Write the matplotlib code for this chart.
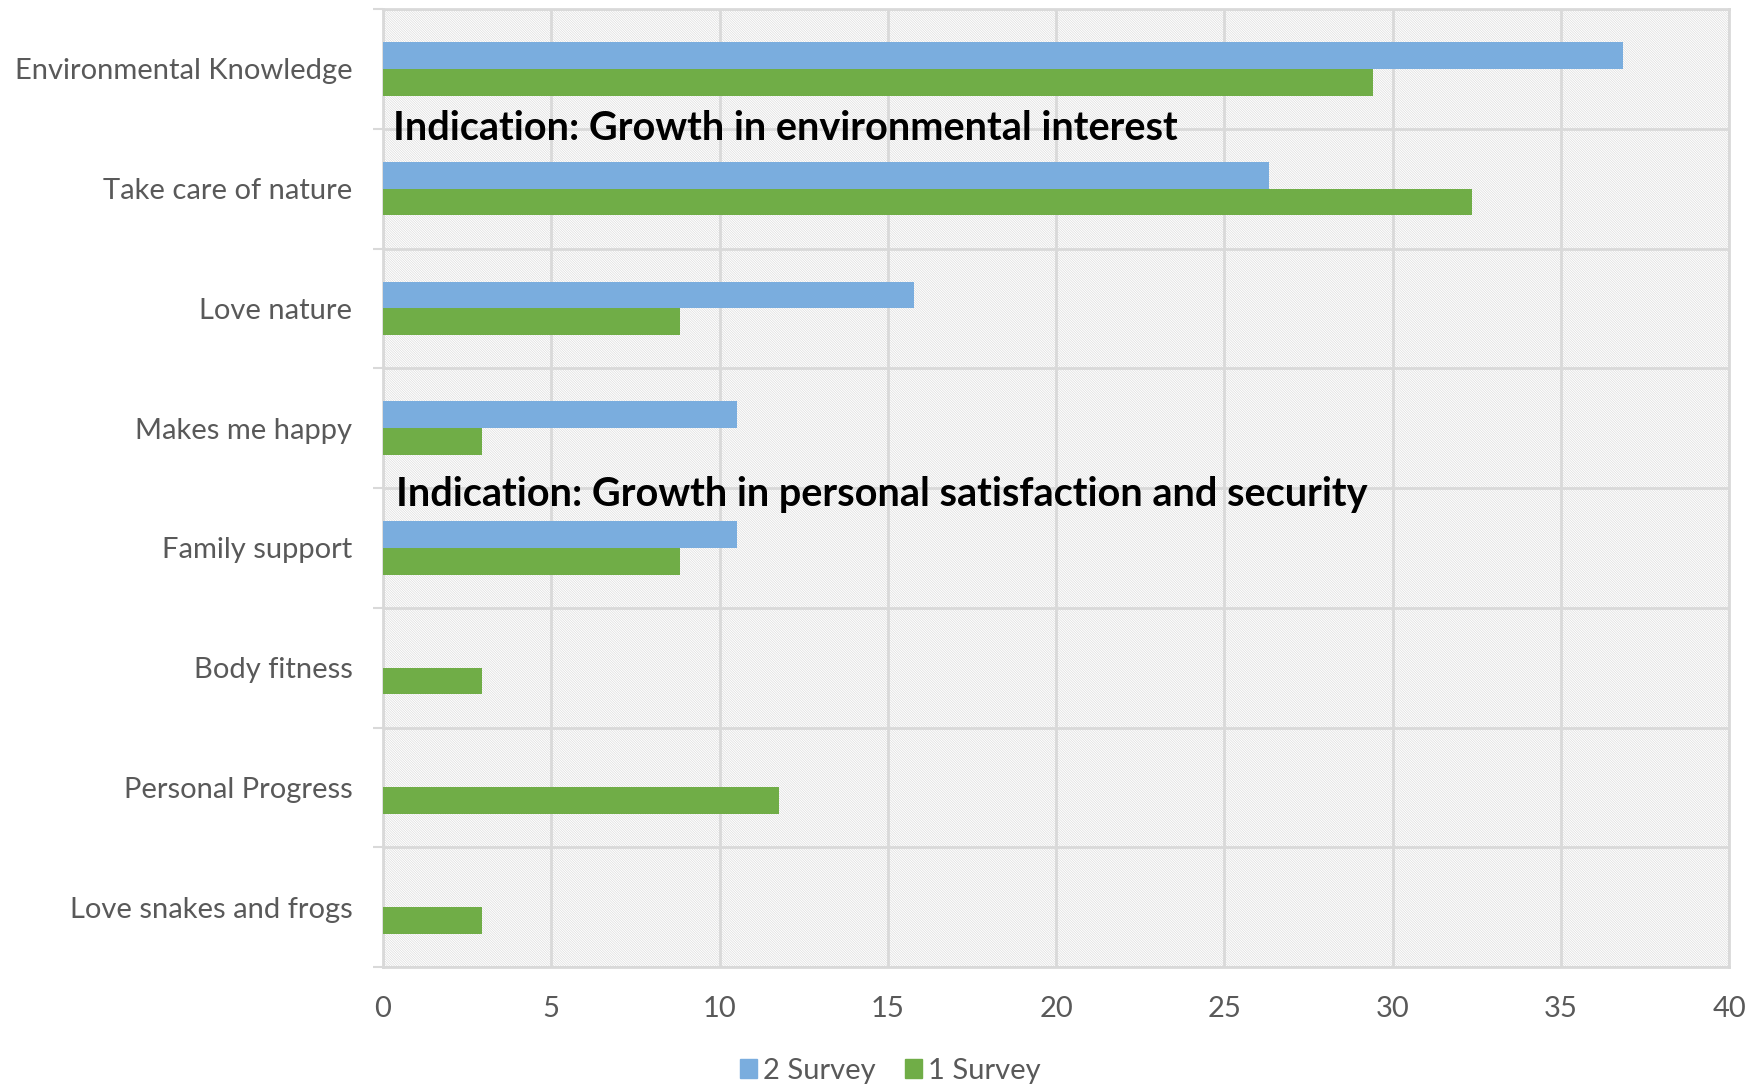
import matplotlib
matplotlib.use("Agg")
import matplotlib.pyplot as plt
from matplotlib.patches import Rectangle, Patch
import numpy as np

categories = ["Environmental Knowledge", "Take care of nature", "Love nature",
              "Makes me happy", "Family support", "Body fitness",
              "Personal Progress", "Love snakes and frogs"]
survey2 = [36.84, 26.32, 15.79, 10.53, 10.53, 0, 0, 0]
survey1 = [29.41, 32.35, 8.82, 2.94, 8.82, 2.94, 11.76, 2.94]
xticks = [0, 5, 10, 15, 20, 25, 30, 35, 40]
notes = ["Indication: Growth in environmental interest",
         "Indication: Growth in personal satisfaction and security"]

blue = "#7aadde"
green = "#70ad47"
grid = "#d9d9d9"
label_col = "#595959"

plt.rcParams["font.family"] = ["Lato", "DejaVu Sans"]
plt.rcParams["hatch.linewidth"] = 0.4

fig = plt.figure(figsize=(17.49, 10.88), dpi=100)
ax = fig.add_axes([0.219, 0.1112, 0.7697, 0.8805])

# hatched plot area
bg = Rectangle((0, 0), 1, 1, transform=ax.transAxes, facecolor="white",
               edgecolor="#d6d6d6", hatch="\\" * 14, linewidth=0, zorder=0)
ax.add_patch(bg)

y = np.arange(len(categories))
h = 0.223
ax.barh(y - h / 2, survey2, height=h, color=blue, zorder=3, label="2 Survey")
ax.barh(y + h / 2, survey1, height=h, color=green, zorder=3, label="1 Survey")

ax.set_xlim(0, 40)
ax.set_ylim(len(categories) - 0.5, -0.5)
ax.set_xticks(xticks)
ax.set_xticklabels([str(t) for t in xticks])

# category boundaries as major ticks / grid, labels on minor ticks
ax.set_yticks(np.arange(-0.5, len(categories), 1.0))
ax.set_yticklabels([])
ax.set_yticks(y, minor=True)
ax.set_yticklabels(categories, minor=True)

ax.grid(True, which="major", color=grid, linewidth=2, zorder=1)
ax.set_axisbelow(True)
ax.tick_params(axis="y", which="major", length=7, width=1.5, color=grid, direction="out")
ax.tick_params(axis="y", which="minor", length=0, pad=22, labelsize=21, labelcolor=label_col)
ax.tick_params(axis="x", which="major", length=0, pad=21, labelsize=21, labelcolor=label_col)

for s in ax.spines.values():
    s.set_color(grid)
    s.set_linewidth(2)

ax.text(0.3, 0.5, notes[0], fontsize=28.5, fontweight="bold", color="black",
        va="center", ha="left", zorder=5)
ax.text(0.4, 3.55, notes[1], fontsize=28.5, fontweight="bold", color="black",
        va="center", ha="left", zorder=5)

handles = [Patch(color=blue, label="2 Survey"), Patch(color=green, label="1 Survey")]
fig.legend(handles=handles, loc="center", bbox_to_anchor=(0.509, 0.016), ncol=2,
           frameon=False, fontsize=21, labelcolor=label_col, handlelength=0.6,
           handleheight=0.6, handletextpad=0.2, columnspacing=1.0)

fig.savefig("out.png", dpi=100)
